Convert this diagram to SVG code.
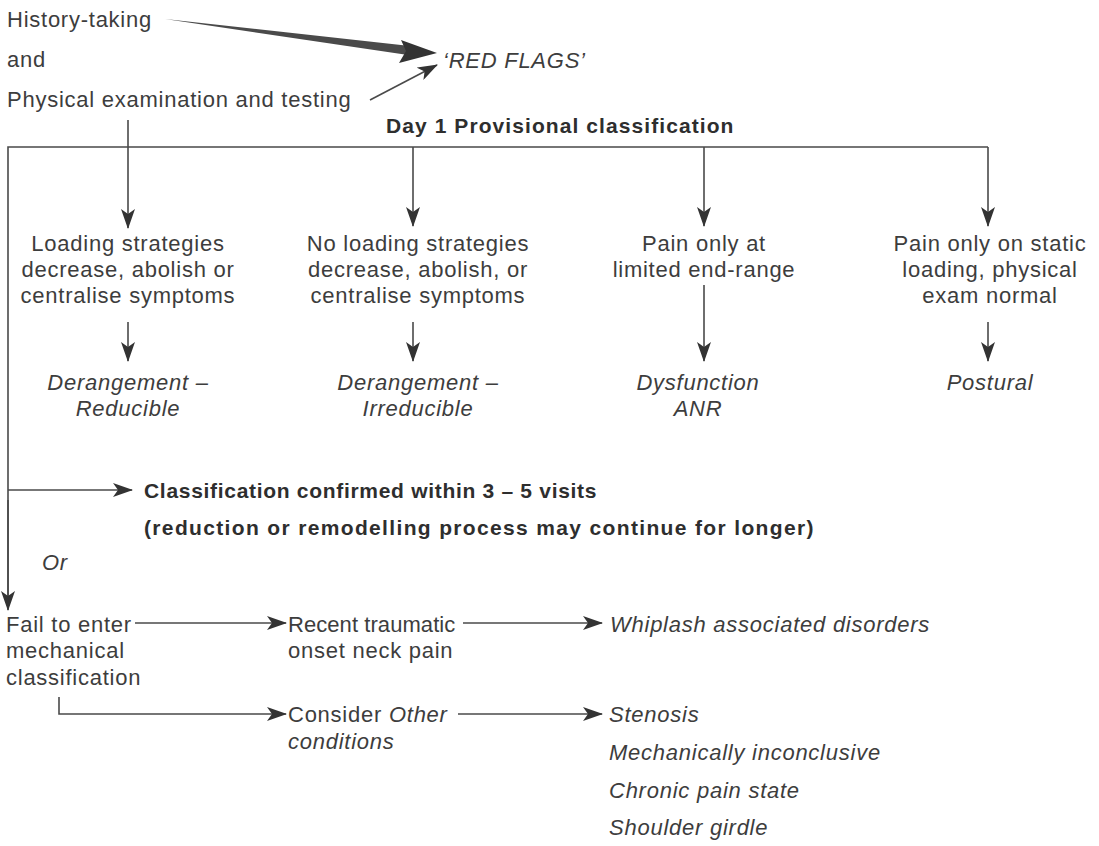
<svg xmlns="http://www.w3.org/2000/svg" width="1099" height="846" viewBox="0 0 1099 846">
<defs>
<marker id="ah" markerWidth="20" markerHeight="14" refX="19" refY="7" orient="auto" markerUnits="userSpaceOnUse">
<path d="M0,0 L20,7 L0,14 L5,7 Z" fill="#333"/>
</marker>
<style>
text{font-family:"Liberation Sans",Arial,sans-serif;font-size:22px;letter-spacing:0.75px;fill:#3d3d3d}
.i{font-style:italic}
.b{font-weight:bold;font-size:21px;letter-spacing:0.55px;fill:#2e2e2e}
.c{text-anchor:middle}
.ln{stroke:#4a4a4a;stroke-width:1.6;fill:none}
.ar{stroke:#4a4a4a;stroke-width:1.6;fill:none;marker-end:url(#ah)}
</style>
</defs>
<rect width="1099" height="846" fill="#fff"/>
<g id="connectors">
<path d="M165,19 L410,46 L408,55 Z" fill="#4a4a4a"/>
<path d="M401,40 L437,53 L399,63 L406,51 Z" fill="#333"/>
<line class="ar" x1="370" y1="100" x2="437" y2="65"/>
<line class="ar" x1="128" y1="120" x2="128" y2="228"/>
<polyline class="ln" points="8,608 8,147 988,147"/>
<line class="ar" x1="8" y1="500" x2="8" y2="610"/>
<line class="ar" x1="413" y1="147" x2="413" y2="226"/>
<line class="ar" x1="704" y1="147" x2="704" y2="226"/>
<line class="ar" x1="988" y1="147" x2="988" y2="226"/>
<line class="ar" x1="128" y1="322" x2="128" y2="361"/>
<line class="ar" x1="413" y1="322" x2="413" y2="361"/>
<line class="ar" x1="704" y1="285" x2="704" y2="361"/>
<line class="ar" x1="988" y1="322" x2="988" y2="361"/>
<line class="ar" x1="8" y1="490" x2="132" y2="490"/>
<line class="ar" x1="135" y1="623" x2="286" y2="623"/>
<line class="ar" x1="463" y1="623" x2="602" y2="623"/>
<polyline class="ar" points="59,697 59,714 286,714"/>
<line class="ar" x1="458" y1="714" x2="602" y2="714"/>
</g>
<g id="history"><text x="7" y="27">History-taking</text></g>
<g id="and"><text x="7" y="67">and</text></g>
<g id="physical"><text x="7" y="107">Physical examination and testing</text></g>
<g id="redflags"><text class="i" x="443" y="68">‘RED FLAGS’</text></g>
<g id="day1"><text class="b" x="386" y="133" textLength="348" lengthAdjust="spacing">Day 1 Provisional classification</text></g>
<g id="col1">
<text class="c" x="128" y="251">Loading strategies</text>
<text class="c" x="128" y="277">decrease, abolish or</text>
<text class="c" x="128" y="303">centralise symptoms</text>
</g>
<g id="col2">
<text class="c" x="418" y="251">No loading strategies</text>
<text class="c" x="418" y="277">decrease, abolish, or</text>
<text class="c" x="418" y="303">centralise symptoms</text>
</g>
<g id="col3">
<text class="c" x="704" y="251">Pain only at</text>
<text class="c" x="704" y="277">limited end-range</text>
</g>
<g id="col4">
<text class="c" x="990" y="251">Pain only on static</text>
<text class="c" x="990" y="277">loading, physical</text>
<text class="c" x="990" y="303">exam normal</text>
</g>
<g id="reducible">
<text class="i c" x="128" y="390">Derangement –</text>
<text class="i c" x="128" y="416">Reducible</text>
</g>
<g id="irreducible">
<text class="i c" x="418" y="390">Derangement –</text>
<text class="i c" x="418" y="416">Irreducible</text>
</g>
<g id="dysfunction">
<text class="i c" x="698" y="390">Dysfunction</text>
<text class="i c" x="698" y="416">ANR</text>
</g>
<g id="postural"><text class="i c" x="990" y="390">Postural</text></g>
<g id="confirmed">
<text class="b" x="144" y="498" textLength="453" lengthAdjust="spacing">Classification confirmed within 3 – 5 visits</text>
<text class="b" x="144" y="535" textLength="670" lengthAdjust="spacing">(reduction or remodelling process may continue for longer)</text>
</g>
<g id="or"><text class="i" x="42" y="570">Or</text></g>
<g id="fail">
<text x="6" y="632">Fail to enter</text>
<text x="6" y="658">mechanical</text>
<text x="6" y="685">classification</text>
</g>
<g id="recent">
<text x="288" y="632" textLength="168" lengthAdjust="spacing">Recent traumatic</text>
<text x="288" y="658">onset neck pain</text>
</g>
<g id="whiplash"><text class="i" x="610" y="632">Whiplash associated disorders</text></g>
<g id="consider">
<text x="288" y="722">Consider <tspan class="i">Other</tspan></text>
<text class="i" x="288" y="749">conditions</text>
</g>
<g id="other">
<text class="i" x="609" y="722">Stenosis</text>
<text class="i" x="609" y="760">Mechanically inconclusive</text>
<text class="i" x="609" y="798">Chronic pain state</text>
<text class="i" x="609" y="835">Shoulder girdle</text>
</g>
</svg>
